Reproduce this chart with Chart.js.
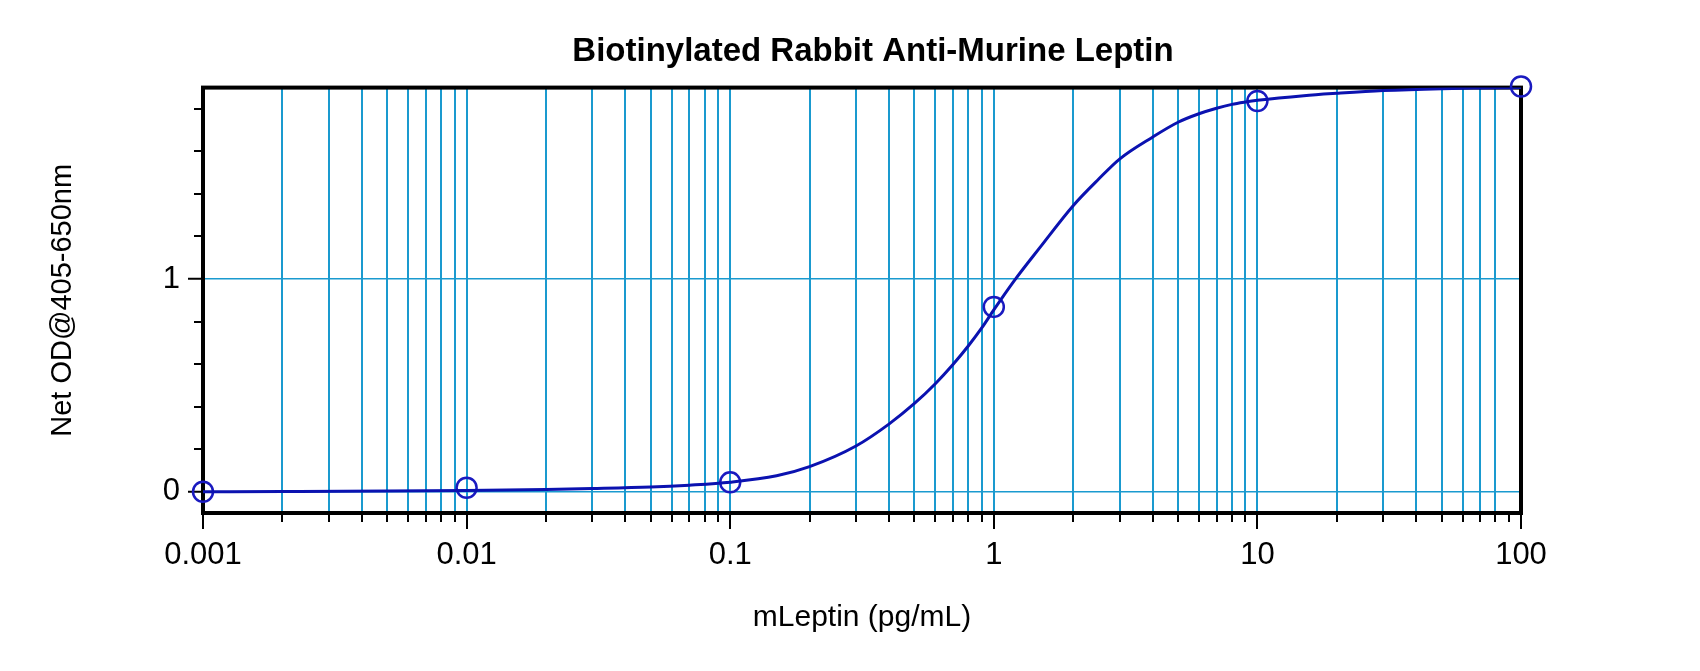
<!DOCTYPE html>
<html>
<head>
<meta charset="utf-8">
<script src="https://cdn.jsdelivr.net/npm/chart.js@4.4.1/dist/chart.umd.min.js"></script>
<style>
  html, body { margin: 0; padding: 0; background: #ffffff; }
  #wrap { width: 1700px; height: 671px; }
</style>
</head>
<body>
<div id="wrap"><canvas id="c" width="1700" height="671"></canvas></div>
<script>
// ---- data ----
const chartTitle = 'Biotinylated Rabbit Anti-Murine Leptin';
const xTitle = 'mLeptin (pg/mL)';
const yTitle = 'Net OD@405-650nm';

// measured standards (open circles)
const stdConc = [0.001, 0.01, 0.1, 1, 10, 100];
const stdOD   = [0, 0.019, 0.044, 0.869, 1.837, 1.905];

// fitted curve
const fitConc = [0.001, 0.002, 0.005, 0.01, 0.02, 0.03, 0.05, 0.07, 0.1, 0.15, 0.2, 0.3, 0.4, 0.5, 0.6, 0.7, 0.8, 0.9, 1, 1.2, 1.5, 2, 2.5, 3, 4, 5, 6, 7, 8, 9, 10, 15, 20, 30, 50, 70, 100];
const fitOD   = [0, 0.001, 0.003, 0.006, 0.011, 0.015, 0.022, 0.031, 0.045, 0.075, 0.118, 0.215, 0.318, 0.415, 0.508, 0.598, 0.685, 0.77, 0.855, 0.995, 1.15, 1.345, 1.47, 1.564, 1.667, 1.737, 1.777, 1.803, 1.821, 1.832, 1.84, 1.862, 1.873, 1.886, 1.895, 1.898, 1.9];

// axis ticks
const xMajorTicks  = [0.001, 0.01, 0.1, 1, 10, 100];
const xMajorLabels = ['0.001', '0.01', '0.1', '1', '10', '100'];
const xMinorMult   = [2, 3, 4, 5, 6, 7, 8, 9];
const yTickValues  = [0, 0.2, 0.4, 0.6, 0.8, 1, 1.2, 1.4, 1.6, 1.8];
const yMajorTicks  = [0, 1];
const yMajorLabels = ['0', '1'];

// ---- styles ----
const GRID = '#1a9acf';
const LINE = '#0b12b0';
const FONT = 'Liberation Sans, Arial, sans-serif';

function norm(v) { return parseFloat(v.toPrecision(8)); }
function isXMajor(v) { return xMajorTicks.some(t => Math.abs(Math.log10(t) - Math.log10(v)) < 1e-6); }
function isYMajor(v) { return yMajorTicks.some(t => Math.abs(t - v) < 1e-9); }

const xAllTicks = [];
for (let i = 0; i < xMajorTicks.length; i++) {
  xAllTicks.push(xMajorTicks[i]);
  if (i < xMajorTicks.length - 1) {
    xMinorMult.forEach(m => xAllTicks.push(norm(m * xMajorTicks[i])));
  }
}

const frameAndMinorTicks = {
  id: 'frameAndMinorTicks',
  beforeDatasetsDraw(chart) {
    const { ctx, chartArea: a } = chart;
    ctx.save();
    ctx.strokeStyle = '#000';
    ctx.lineWidth = 4;
    ctx.strokeRect(a.left, a.top, a.right - a.left, a.bottom - a.top);
    ctx.restore();
  },
  afterDraw(chart) {
    const { ctx, chartArea: a } = chart;
    const xs = chart.scales.x, ys = chart.scales.y;
    ctx.save();
    ctx.strokeStyle = '#000';
    ctx.lineWidth = 2;
    xs.ticks.forEach(t => {
      if (isXMajor(t.value)) return;
      const px = Math.round(xs.getPixelForValue(t.value));
      ctx.beginPath(); ctx.moveTo(px, a.bottom + 2); ctx.lineTo(px, a.bottom + 9); ctx.stroke();
    });
    ys.ticks.forEach(t => {
      if (isYMajor(t.value)) return;
      const py = Math.round(ys.getPixelForValue(t.value));
      ctx.beginPath(); ctx.moveTo(a.left - 9, py); ctx.lineTo(a.left - 2, py); ctx.stroke();
    });
    ctx.restore();
  }
};

new Chart(document.getElementById('c'), {
  type: 'line',
  data: {
    datasets: [
      {
        label: 'fit',
        data: fitConc.map((x, i) => ({ x: x, y: fitOD[i] })),
        borderColor: LINE,
        borderWidth: 3,
        pointRadius: 0,
        cubicInterpolationMode: 'monotone',
        fill: false
      },
      {
        label: 'standards',
        data: stdConc.map((x, i) => ({ x: x, y: stdOD[i] })),
        showLine: false,
        pointStyle: 'circle',
        pointRadius: 10,
        pointBorderWidth: 2.5,
        pointBackgroundColor: 'rgba(0,0,0,0)',
        pointBorderColor: '#1a1ac0',
        clip: false
      }
    ]
  },
  options: {
    responsive: false,
    animation: false,
    devicePixelRatio: 1,
    layout: { padding: { left: 46, right: 0, top: 0, bottom: 0 } },
    plugins: {
      legend: { display: false },
      tooltip: { enabled: false },
      title: {
        display: true,
        text: chartTitle,
        color: '#000',
        font: { family: FONT, size: 33, weight: 'bold' },
        padding: { top: 32, bottom: 16 }
      }
    },
    scales: {
      x: {
        type: 'logarithmic',
        position: 'bottom',
        min: 0.001,
        max: 100,
        afterBuildTicks: (s) => { s.ticks = xAllTicks.map(v => ({ value: v })); },
        afterFit: (s) => { s.height = 158; },
        border: { display: false },
        grid: {
          color: (c) => (c.tick && c.tick.value > 0.0015 && c.tick.value < 90) ? GRID : 'rgba(0,0,0,0)',
          lineWidth: 2,
          tickLength: 16,
          tickWidth: 2,
          tickColor: (c) => (c.tick && isXMajor(c.tick.value)) ? '#000' : 'rgba(0,0,0,0)'
        },
        ticks: {
          autoSkip: false,
          maxRotation: 0,
          padding: 8,
          color: '#000',
          font: { family: FONT, size: 31 },
          callback: (v) => {
            const i = xMajorTicks.findIndex(t => Math.abs(Math.log10(t) - Math.log10(v)) < 1e-6);
            return i >= 0 ? xMajorLabels[i] : '';
          }
        },
        title: {
          display: true,
          text: xTitle,
          color: '#000',
          font: { family: FONT, size: 30 },
          padding: { top: 0, bottom: 35 }
        }
      },
      y: {
        type: 'linear',
        position: 'left',
        min: -0.1,
        max: 1.9,
        afterBuildTicks: (s) => { s.ticks = yTickValues.map(v => ({ value: v })); },
        afterFit: (s) => { s.width = 157; },
        border: { display: false },
        grid: {
          color: (c) => (c.tick && isYMajor(c.tick.value)) ? GRID : 'rgba(0,0,0,0)',
          lineWidth: 1.5,
          tickLength: 15,
          tickWidth: 2,
          tickColor: (c) => (c.tick && isYMajor(c.tick.value)) ? '#000' : 'rgba(0,0,0,0)'
        },
        ticks: {
          autoSkip: false,
          padding: 8,
          color: '#000',
          font: { family: FONT, size: 31 },
          callback: (v) => {
            const i = yMajorTicks.findIndex(t => Math.abs(t - v) < 1e-9);
            return i >= 0 ? yMajorLabels[i] : '';
          }
        },
        title: {
          display: true,
          text: yTitle,
          color: '#000',
          font: { family: FONT, size: 29 },
          padding: { top: 0, bottom: 0 }
        }
      },
      yRight: {
        type: 'linear',
        position: 'right',
        min: 0,
        max: 1,
        display: true,
        afterFit: (s) => { s.width = 179; },
        border: { display: false },
        grid: { display: false },
        ticks: { display: false }
      }
    }
  },
  plugins: [frameAndMinorTicks]
});
</script>
</body>
</html>
